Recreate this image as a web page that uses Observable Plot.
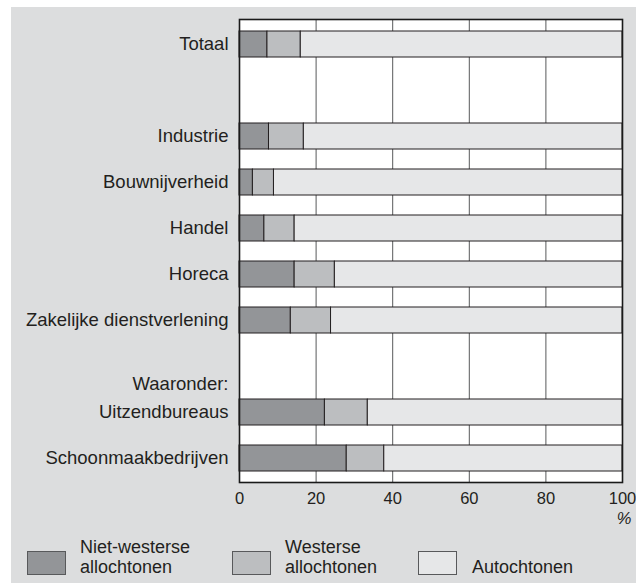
<!DOCTYPE html>
<html>
<head>
<meta charset="utf-8">
<script src="https://cdn.jsdelivr.net/npm/d3@7"></script>
<script src="https://cdn.jsdelivr.net/npm/@observablehq/plot@0.6"></script>
<style>
  html, body { margin: 0; padding: 0; background: #ffffff; }
  body { width: 636px; height: 583px; position: relative; overflow: hidden;
         font-family: "Liberation Sans", Arial, Helvetica, sans-serif; color: #231f20; }
  #panel { position: absolute; left: 11px; top: 7px; width: 625px; height: 576px; background: #dcddde; }
  #chart { position: absolute; left: 0; top: 0; }
  .sw { position: absolute; width: 37px; height: 22px; border: 1px solid #58595b; }
  .lt { position: absolute; font-size: 18px; line-height: 19.5px; white-space: nowrap; }
</style>
</head>
<body>
<div id="panel">
  <div id="chart"></div>
</div>
<script>
// Categories (rows, top to bottom); " " and "Waaronder:" are spacer rows without bars
const categories = ["Totaal", " ", "Industrie", "Bouwnijverheid", "Handel", "Horeca",
  "Zakelijke dienstverlening", "Waaronder:", "Uitzendbureaus", "Schoonmaakbedrijven"];
const barCategories = ["Totaal", "Industrie", "Bouwnijverheid", "Handel", "Horeca",
  "Zakelijke dienstverlening", "Uitzendbureaus", "Schoonmaakbedrijven"];
const groups = ["Niet-westerse allochtonen", "Westerse allochtonen", "Autochtonen"];
const groupColors = ["#939598", "#bcbec0", "#e6e7e8"];
// Shares (%)
const nietWesters = [7.3, 7.7, 3.5, 6.5, 14.4, 13.4, 22.3, 28.0];
const westers     = [8.7, 9.1, 5.5, 7.9, 10.5, 10.5, 11.2, 9.8];
const autochtoon  = [84.0, 83.2, 91.0, 85.6, 75.1, 76.1, 66.5, 62.2];
const xTicks = [0, 20, 40, 60, 80, 100];
const gridTicks = [20, 40, 60, 80];

const series = [nietWesters, westers, autochtoon];
const long = [];
barCategories.forEach((c, i) => {
  groups.forEach((g, j) => long.push({cat: c, group: g, value: series[j][i]}));
});

const chart = Plot.plot({
  width: 625,
  height: 520,
  marginLeft: 228,
  marginRight: 14,
  marginTop: 12,
  marginBottom: 45,
  style: {background: "transparent", fontFamily: "'Liberation Sans', Arial, Helvetica, sans-serif", color: "#231f20"},
  x: {domain: [0, 100], axis: null},
  y: {domain: categories, paddingInner: 0.44, paddingOuter: 0.19, axis: null},
  color: {domain: groups, range: groupColors},
  marks: [
    Plot.frame({fill: "white", stroke: "none"}),
    Plot.ruleX(gridTicks, {stroke: "#58595b", strokeWidth: 1}),
    Plot.barX(long, Plot.stackX({y: "cat", x: "value", fill: "group", stroke: "#231f20", strokeWidth: 1})),
    Plot.frame({stroke: "#1a1a1a", strokeWidth: 1.6}),
    Plot.axisX(xTicks, {tickSize: 0, tickPadding: 10, fontSize: 16.5, label: null, fill: "#231f20"}),
    Plot.axisY(categories.filter(c => c !== " " && c !== "Waaronder:"),
      {tickSize: 0, tickPadding: 11, fontSize: 18.5, label: null, fill: "#231f20"}),
    Plot.text(["Waaronder:"], {y: d => d, frameAnchor: "left", textAnchor: "end", dx: -11, dy: 18, fontSize: 18.5, fill: "#231f20"}),
    Plot.text(["%"], {frameAnchor: "bottom-right", textAnchor: "end", lineAnchor: "top", dx: 9, dy: 30, fontSize: 16.5, fontStyle: "italic", fill: "#231f20"})
  ]
});
document.getElementById("chart").appendChild(chart);

// Legend (below the chart)
const panel = document.getElementById("panel");
const legendItems = [
  {sx: 16, tx: 69, lines: ["Niet-westerse", "allochtonen"], top: 531},
  {sx: 221, tx: 274, lines: ["Westerse", "allochtonen"], top: 531},
  {sx: 407, tx: 461, lines: ["Autochtonen"], top: 551}
];
legendItems.forEach((it, i) => {
  const sw = document.createElement("div");
  sw.className = "sw";
  sw.style.left = it.sx + "px";
  sw.style.top = "544px";
  sw.style.background = groupColors[i];
  panel.appendChild(sw);
  const t = document.createElement("div");
  t.className = "lt";
  t.style.left = it.tx + "px";
  t.style.top = it.top + "px";
  t.innerHTML = it.lines.join("<br>");
  panel.appendChild(t);
});
</script>
</body>
</html>
